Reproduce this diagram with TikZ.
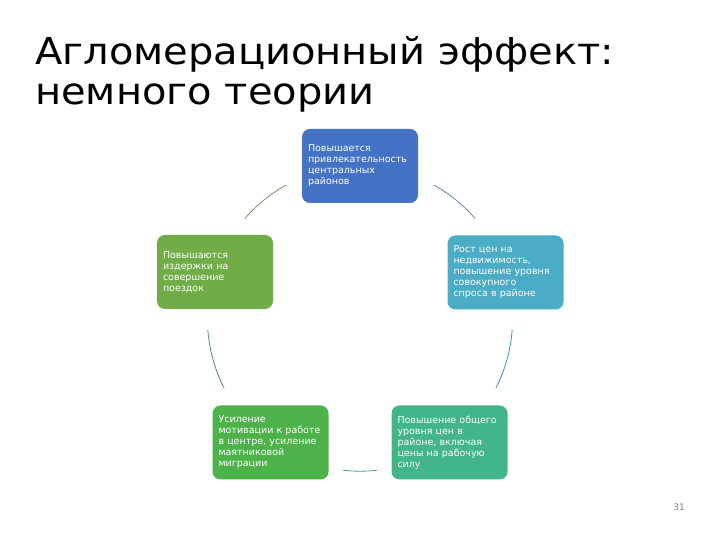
\documentclass[tikz,border=0pt]{standalone}
\usepackage{fontspec}
\setmainfont{DejaVu Sans}
\newfontfamily\boxfont{DejaVu Sans}
\newfontfamily\titlefont[FakeStretch=1.08]{DejaVu Sans}
\definecolor{cTop}{RGB}{68,114,196}
\definecolor{cRight}{RGB}{75,172,198}
\definecolor{cBR}{RGB}{66,182,137}
\definecolor{cBL}{RGB}{78,178,74}
\definecolor{cLeft}{RGB}{112,173,71}
\definecolor{aTL}{RGB}{120,150,110}
\definecolor{aTR}{RGB}{100,130,175}
\definecolor{aRB}{RGB}{70,140,195}
\definecolor{aB}{RGB}{60,160,150}
\definecolor{aLB}{RGB}{80,145,90}
\tikzset{
  stage/.style={rounded corners=8pt, text=white, font=\boxfont\fontsize{9.5}{11}\selectfont,
    text width=104pt, inner xsep=6pt, inner ysep=0pt, minimum height=74pt, align=left},
  conn/.style={line width=0.8pt},
  titletext/.style={anchor=base west, inner sep=0pt, font=\titlefont\fontsize{37}{40}\selectfont, text=black}
}
\begin{document}
\begin{tikzpicture}[x=1pt,y=1pt]
\useasboundingbox[fill=white] (0,0) rectangle (720,540);
\node[titletext] (t1) at (35,475) {Агломерационный эффект:};
\node[titletext] (t2) at (35,435) {немного теории};
\coordinate (ctr) at (360,221.4);
\node[stage, fill=cTop] (s1) at (360,374) {Повышается\\привлекательность\\центральных\\районов};
\node[stage, fill=cRight] (s2) at (505.5,267.5) {Рост цен на\\недвижимость,\\повышение уровня\\совокупного\\спроса в районе};
\node[stage, fill=cBR] (s3) at (449.5,97.5) {Повышение общего\\уровня цен в\\районе, включая\\цены на рабочую\\силу};
\node[stage, fill=cBL] (s4) at (270.5,97.5) {Усиление\\мотивации к работе\\в центре, усиление\\маятниковой\\миграции};
\node[stage, fill=cLeft] (s5) at (215,268) {Повышаются\\издержки на\\совершение\\поездок};
\draw[conn, aTR] ([shift={(61:152.6)}]ctr) arc[start angle=61, end angle=41, radius=152.6];
\draw[conn, aRB] ([shift={(-4.3:152.6)}]ctr) arc[start angle=-4.3, end angle=-27, radius=152.6];
\draw[conn, aB] ([shift={(-83.5:152.6)}]ctr) arc[start angle=-83.5, end angle=-96.5, radius=152.6];
\draw[conn, aLB] ([shift={(-153:152.6)}]ctr) arc[start angle=-153, end angle=-175.7, radius=152.6];
\draw[conn, aTL] ([shift={(139:152.6)}]ctr) arc[start angle=139, end angle=119, radius=152.6];
\node[font=\fontsize{9}{10}\selectfont, text=gray, inner sep=0pt] (pg) at (679,33) {31};
\end{tikzpicture}
\end{document}
